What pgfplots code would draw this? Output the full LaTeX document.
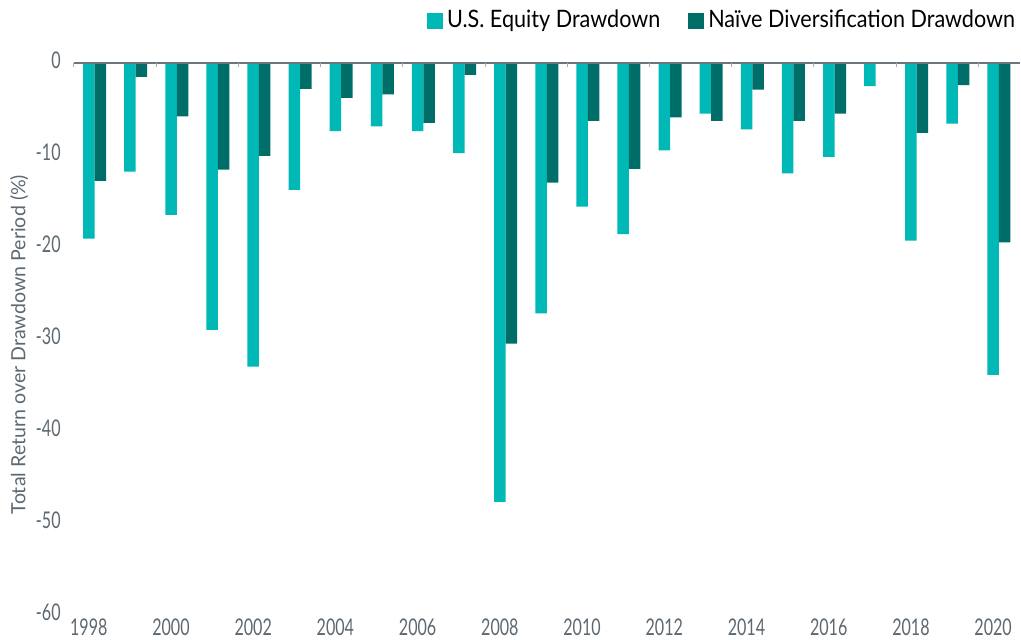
\documentclass[border=0pt]{standalone}
\usepackage{fontspec}
\setmainfont{Lato}
\newfontfamily\condfont{Lato}[FakeStretch=0.7]
\newfontfamily\legfont{Lato}[FakeStretch=0.9]
\usepackage{pgfplots}
\pgfplotsset{compat=1.18}

\definecolor{eqteal}{HTML}{00B8B5}
\definecolor{divteal}{HTML}{006E68}
\definecolor{axgray}{HTML}{6D767C}
\definecolor{labgray}{HTML}{5E6870}

\begin{document}
\begin{tikzpicture}
\begin{axis}[
    scale only axis,
    width=472.75pt,
    height=276pt,
    ybar=0pt,
    bar width=5.75pt,
    xmin=-0.5, xmax=22.5,
    ymin=-60, ymax=0,
    xtick={0,2,...,22},
    xticklabels={1998,2000,2002,2004,2006,2008,2010,2012,2014,2016,2018,2020},
    ytick={-60,-50,...,0},
    yticklabels={-60,-50,-40,-30,-20,-10,0},
    axis line style={draw=none},
    major tick length=0pt,
    tick style={draw=none},
    xticklabel style={anchor=base, inner sep=0pt, yshift=-10pt, xshift=-2.9pt,
        font=\condfont\fontsize{11.5}{13}\selectfont, text=labgray},
    yticklabel style={anchor=base east, inner sep=0pt, xshift=-6.5pt, yshift=-2.7pt,
        font=\condfont\fontsize{11.5}{13}\selectfont, text=labgray},
    ylabel={Total Return over Drawdown Period (\%)},
    ylabel style={at={(axis description cs:-0.058,0.49)}, anchor=center,
        font=\fontsize{9.8}{11}\selectfont, text=labgray},
    legend columns=2,
    legend style={at={(rel axis cs:1,1)}, anchor=east, yshift=21.25pt, draw=none,
        inner sep=0pt, font=\legfont\fontsize{12}{14}\selectfont,
        /tikz/every even column/.append style={column sep=12pt}},
    legend image code/.code={\fill[#1] (0pt,-4pt) rectangle (8pt,4pt);},
    legend cell align=left,
    clip=false,
]
\addplot[fill=eqteal, draw=none] coordinates {
(0,-19.1) (1,-11.8) (2,-16.5) (3,-29.0) (4,-33.0) (5,-13.8) (6,-7.4) (7,-6.9)
(8,-7.4) (9,-9.8) (10,-47.7) (11,-27.2) (12,-15.6) (13,-18.6) (14,-9.5) (15,-5.5)
(16,-7.2) (17,-12.0) (18,-10.2) (19,-2.5) (20,-19.3) (21,-6.6) (22,-33.9)
};
\addlegendentry{U.S. Equity Drawdown}
\addplot[fill=divteal, draw=none] coordinates {
(0,-12.8) (1,-1.5) (2,-5.8) (3,-11.6) (4,-10.1) (5,-2.8) (6,-3.8) (7,-3.4)
(8,-6.5) (9,-1.3) (10,-30.5) (11,-13.0) (12,-6.3) (13,-11.5) (14,-5.9) (15,-6.3)
(16,-2.9) (17,-6.3) (18,-5.5) (19,0) (20,-7.6) (21,-2.4) (22,-19.5)
};
\addlegendentry{Naïve Diversification Drawdown}
\draw[axgray, line width=1.2pt] (axis cs:-0.5,0) -- (axis cs:22.5,0);
\pgfplotsinvokeforeach{-0.5,1.5,...,21.5}{
  \draw[axgray!60, line width=0.5pt] (axis cs:#1,0) -- ([yshift=-2.2pt]axis cs:#1,0);
}
\end{axis}
\pgfresetboundingbox
\path[use as bounding box] (-37pt,-12pt) rectangle (473.5pt,307.5pt);
\end{tikzpicture}
\end{document}
